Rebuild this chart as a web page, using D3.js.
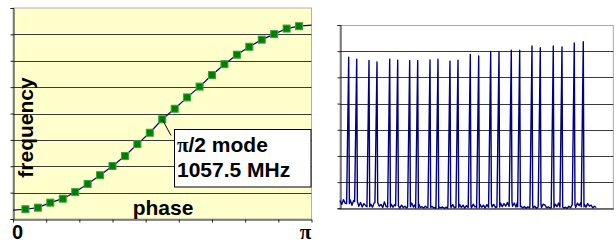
<!DOCTYPE html>
<html>
<head>
<meta charset="utf-8">
<script src="https://cdn.jsdelivr.net/npm/d3@7"></script>
<style>
  body { margin: 0; background: #fff; }
  svg { display: block; }
  text { font-family: "Liberation Sans", Arial, sans-serif; font-weight: bold; }
</style>
</head>
<body>
<div id="chart"></div>
<script>
var w = 616;
var h = 242;

// left chart: cell dispersion curve, phase advance 0..pi in steps of pi/24
var phaseSteps = d3.range(0, 25);           // k = 0..24, phase = k*pi/24
var freqValues = [0.34, 0.37, 0.43, 0.62, 0.77, 1.02, 1.33, 1.66, 2.01, 2.39,
                  2.84, 3.27, 3.78, 4.18, 4.61, 5.02, 5.46, 5.87, 6.23, 6.53,
                  6.80, 7.01, 7.22, 7.31, 7.35];
var markerSteps = d3.range(1, 24);          // measured modes 1..23
var modeStep = 12;                          // pi/2 mode
var annotationLines = ["/2 mode", "1057.5 MHz"];

// right chart: measured spectrum, 24 resonance peaks over a noisy floor
var peakPos = [5.09, 9.78, 16.98, 21.66, 29.10, 33.78, 40.80, 45.49, 52.69, 57.37,
               64.39, 69.08, 76.28, 81.20, 88.22, 93.08, 100.28, 105.20, 112.40, 117.26,
               124.87, 129.96, 137.16, 142.43];
var peakHeight = [5.77, 5.69, 5.65, 5.59, 5.69, 5.66, 5.64, 5.64, 5.67, 5.69,
                  5.62, 5.66, 5.88, 5.82, 5.99, 5.99, 6.04, 6.04, 6.20, 6.13,
                  6.20, 6.16, 6.31, 6.36];
var noiseFloor = [0.30, 0.14, 0.33, 0.20, 0.36, 0.18, 0.32, 0.12, 0.30, 0.16,
                  0.26, 0.08, 0.22, 0.05, 0.18, 0.10, 0.24, 0.06, 0.16, 0.04,
                  0.20, 0.05, 0.22, 0.08, 0.15, 0.03, 0.24, 0.07, 0.18, 0.05,
                  0.16, 0.04, 0.14, 0.02, 0.10, 0.01, 0.12, 0.03, 0.08, 0.01,
                  0.16, 0.06, 0.20, 0.05, 0.14, 0.02, 0.18, 0.03, 0.06, 0.01,
                  0.08, 0.02, 0.16, 0.04, 0.07, 0.01, 0.05, 0.00, 0.06, 0.02,
                  0.05, 0.00, 0.04, 0.01, 0.12, 0.03, 0.14, 0.02, 0.10, 0.04,
                  0.15, 0.03, 0.12, 0.01, 0.10, 0.03, 0.09, 0.02, 0.16, 0.05,
                  0.10, 0.02, 0.15, 0.04, 0.12, 0.01, 0.14, 0.04, 0.18, 0.05,
                  0.15, 0.03, 0.12, 0.05, 0.20, 0.06, 0.18, 0.08, 0.22, 0.07,
                  0.24, 0.08, 0.20, 0.05, 0.25, 0.06, 0.08, 0.01, 0.07, 0.00,
                  0.06, 0.01, 0.10, 0.02, 0.08, 0.00, 0.05, 0.14, 0.03, 0.16,
                  0.12, 0.02, 0.06, 0.01, 0.12, 0.03, 0.16, 0.06, 0.20, 0.04,
                  0.05, 0.01, 0.04, 0.00, 0.08, 0.02, 0.06, 0.14, 0.04, 0.20,
                  0.10, 0.22, 0.06, 0.16, 0.04, 0.18, 0.08, 0.12, 0.02, 0.08, 0.03];

var svg = d3.select("#chart").append("svg")
    .attr("width", w)
    .attr("height", h);

// ---------- left chart ----------
var xL = d3.scaleLinear().domain([0, Math.PI]).range([13, 311.5]);
var yL = d3.scaleLinear().domain([0, 8]).range([219, 8]);

var left = svg.append("g");

left.append("rect")
    .attr("x", xL(0))
    .attr("y", yL(8))
    .attr("width", xL(Math.PI) - xL(0))
    .attr("height", yL(0) - yL(8))
    .attr("fill", "#ffffcc")
    .attr("stroke", "#b0b0b0");

// horizontal gridlines
left.append("g").selectAll("line")
    .data(d3.range(1, 8))
    .enter()
    .append("line")
    .attr("x1", xL(0))
    .attr("x2", xL(Math.PI))
    .attr("y1", function(d) { return Math.round(yL(d)) + 0.5; })
    .attr("y2", function(d) { return Math.round(yL(d)) + 0.5; })
    .attr("stroke", "#3a3a3a");

// axes without labels
left.append("g")
    .attr("transform", "translate(" + (xL(0) + 0.5) + ",0)")
    .call(d3.axisLeft(yL).tickValues(d3.range(0, 9)).tickSize(3).tickFormat(""))
    .call(function(g) { g.selectAll("path, line").attr("stroke", "#222"); });

left.append("g")
    .attr("transform", "translate(0," + (Math.round(yL(0)) + 0.5) + ")")
    .call(d3.axisBottom(xL).tickValues(d3.range(0, 10).map(function(i) { return i * Math.PI / 9; }))
        .tickSize(3).tickSizeOuter(0).tickFormat(""))
    .call(function(g) { g.selectAll("path, line").attr("stroke", "#222"); });

var line = d3.line()
    .x(function(d) { return xL(d * Math.PI / 24); })
    .y(function(d) { return yL(freqValues[d]); });

left.append("path")
    .datum(phaseSteps)
    .attr("d", line)
    .attr("fill", "none")
    .attr("stroke", "#000080")
    .attr("stroke-width", 1.2);

left.selectAll("rect.mode")
    .data(markerSteps)
    .enter()
    .append("rect")
    .attr("class", "mode")
    .attr("x", function(d) { return xL(d * Math.PI / 24) - 3.5; })
    .attr("y", function(d) { return yL(freqValues[d]) - 3.5; })
    .attr("width", 7)
    .attr("height", 7)
    .attr("fill", "#008000")
    .attr("stroke", "#3f9f3f")
    .attr("stroke-width", 1);

// axis titles and end labels
left.append("text")
    .attr("transform", "translate(33," + 127.5 + ") rotate(-90)")
    .attr("text-anchor", "middle")
    .attr("font-size", 21)
    .text("frequency");

left.append("text")
    .attr("x", 163)
    .attr("y", 215)
    .attr("text-anchor", "middle")
    .attr("font-size", 21)
    .text("phase");

left.append("text")
    .attr("x", xL(0) + 4.5)
    .attr("y", 238.5)
    .attr("text-anchor", "middle")
    .attr("font-size", 20)
    .text("0");

left.append("text")
    .attr("x", xL(Math.PI) - 6)
    .attr("y", 238.5)
    .attr("text-anchor", "middle")
    .attr("font-size", 21)
    .style("font-family", "'Liberation Serif', 'Times New Roman', serif")
    .text("\u03c0");

// annotation for the pi/2 mode
var boxX = 174, boxY = 129.5;
left.append("line")
    .attr("x1", xL(modeStep * Math.PI / 24))
    .attr("y1", yL(freqValues[modeStep]))
    .attr("x2", boxX - 3)
    .attr("y2", boxY + 6)
    .attr("stroke", "#000");

left.append("rect")
    .attr("x", boxX + 0.5)
    .attr("y", boxY)
    .attr("width", 136.5)
    .attr("height", 57.5)
    .attr("fill", "#fff")
    .attr("stroke", "#000");

var note = left.append("text")
    .attr("x", boxX + 3)
    .attr("y", boxY + 22.5)
    .attr("font-size", 21);
note.append("tspan")
    .style("font-family", "'Liberation Serif', 'Times New Roman', serif")
    .text("\u03c0");
note.append("tspan").text(annotationLines[0]);

left.append("text")
    .attr("x", boxX + 3)
    .attr("y", boxY + 47.5)
    .attr("font-size", 21)
    .text(annotationLines[1]);

// ---------- right chart ----------
var xR = d3.scaleLinear().domain([0, 160]).range([340, 613.3]);
var yR = d3.scaleLinear().domain([0, 7]).range([208.3, 25]);

var right = svg.append("g");

right.append("rect")
    .attr("x", xR(0))
    .attr("y", Math.round(yR(7)) + 0.5)
    .attr("width", xR(160) - xR(0))
    .attr("height", yR(0) - yR(7))
    .attr("fill", "#fff")
    .attr("stroke", "#a8a8a8");

right.append("g").selectAll("line")
    .data(d3.range(1, 7))
    .enter()
    .append("line")
    .attr("x1", xR(0))
    .attr("x2", xR(160))
    .attr("y1", function(d) { return Math.round(yR(d)) + 0.5; })
    .attr("y2", function(d) { return Math.round(yR(d)) + 0.5; })
    .attr("stroke", "#3a3a3a");

right.append("g")
    .attr("transform", "translate(" + (xR(0) + 0.5) + ",0)")
    .call(d3.axisLeft(yR).tickValues(d3.range(0, 8)).tickSize(3).tickFormat(""))
    .call(function(g) { g.selectAll("path, line").attr("stroke", "#222"); });

right.append("g")
    .attr("transform", "translate(0," + (Math.round(yR(0)) + 0.5) + ")")
    .call(d3.axisBottom(xR).tickValues([]).tickSizeOuter(0))
    .call(function(g) { g.selectAll("path").attr("stroke", "#111"); });

// merge noise floor with the peaks
var spectrum = [];
noiseFloor.forEach(function(v, i) {
    var nearPeak = peakPos.some(function(p) { return i > p - 1.2 && i < p + 0.45; });
    if (!nearPeak) spectrum.push([i, v]);
});
peakPos.forEach(function(p, i) {
    var base = noiseFloor[Math.round(p)];
    spectrum.push([p - 1.2, base]);
    spectrum.push([p, peakHeight[i]]);
    spectrum.push([p + 0.4, base]);
});
spectrum.sort(function(a, b) { return a[0] - b[0]; });

right.append("path")
    .datum(spectrum)
    .attr("d", d3.line()
        .x(function(d) { return xR(d[0]); })
        .y(function(d) { return yR(d[1]); }))
    .attr("fill", "none")
    .attr("stroke", "#000080")
    .attr("stroke-width", 1.4)
    .attr("stroke-linejoin", "round");
</script>
</body>
</html>
